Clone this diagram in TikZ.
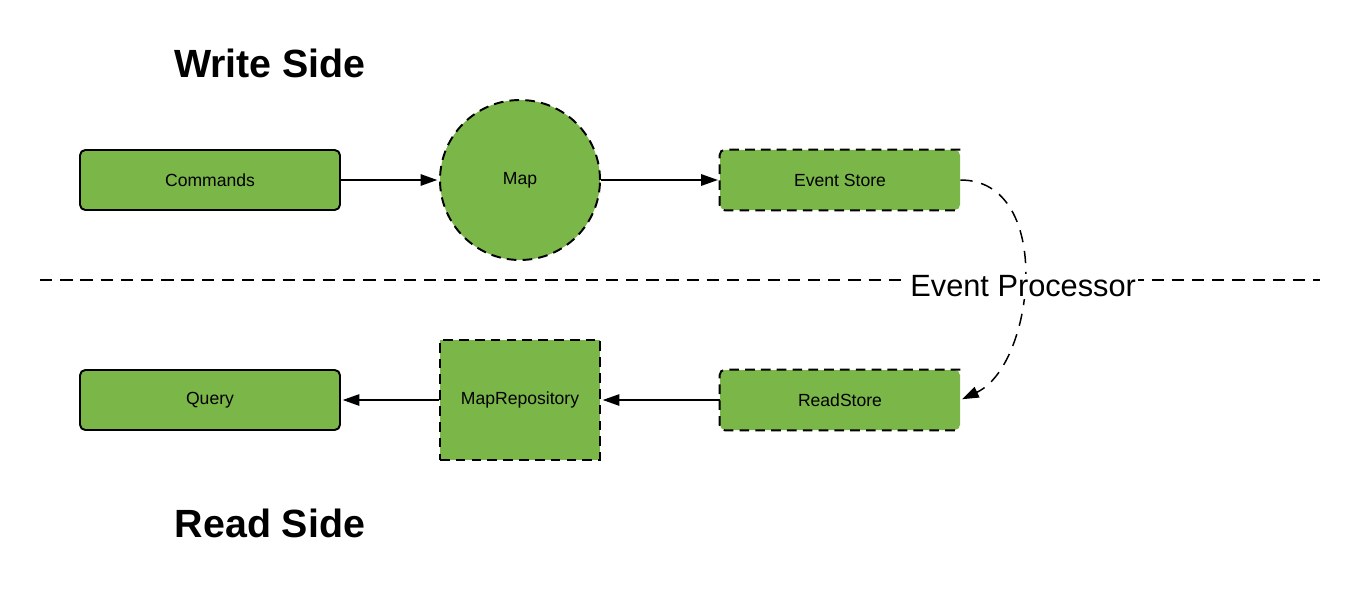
\documentclass[tikz,border=0pt]{standalone}
\usepackage{fontspec}
\setmainfont{Liberation Sans}
\usepackage{xcolor}
\usepackage{tikz}
\usetikzlibrary{arrows.meta, positioning, calc}
\definecolor{BoxGreen}{RGB}{122, 182, 72}

\tikzset{
    box/.style={fill=BoxGreen, minimum width=5.2cm, minimum height=1.2cm, font=\fontsize{10}{12}\selectfont},
    solidbox/.style={box, draw=black, line width=1.1pt, rounded corners=3pt},
    dashbox/.style={box, minimum width=4.8cm, rounded corners=3pt},
    dashedge/.style={line width=1.1pt, dash pattern=on 5.5pt off 3.5pt, rounded corners=3pt},
    flow/.style={line width=0.85pt, -{Triangle[length=9.5pt, width=6.5pt]}, shorten >=1pt},
    sidelabel/.style={font=\fontsize{22.4}{26}\selectfont\bfseries}
}

\begin{document}
\begin{tikzpicture}
    \useasboundingbox (0,0) rectangle (27.2,12);

    % titles
    \node[sidelabel] (write) at (5.4,10.74) {Write Side};
    \node[sidelabel] (read) at (5.4,1.54) {Read Side};

    % write side
    \node[solidbox] (commands) at (4.2,8.4) {Commands};
    \node[circle, fill=BoxGreen, draw=black, line width=1.1pt, dash pattern=on 5.5pt off 3.5pt,
          minimum size=3.2cm, font=\fontsize{10}{12}\selectfont] (map) at (10.4,8.4) {Map};
    \node[dashbox] (eventstore) at (16.8,8.4) {Event Store};
    \draw[dashedge] (eventstore.north east) -- (eventstore.north west) -- (eventstore.south west) -- (eventstore.south east);

    % read side
    \node[solidbox] (query) at (4.2,4.0) {Query};
    \node[box, draw=black, line width=1.1pt, dash pattern=on 5.5pt off 3.5pt,
          minimum width=3.2cm, minimum height=2.4cm] (maprepo) at (10.4,4.0) {MapRepository};
    \node[dashbox] (readstore) at (16.8,4.0) {ReadStore};
    \draw[dashedge] (readstore.north east) -- (readstore.north west) -- (readstore.south west) -- (readstore.south east);

    % arrows
    \draw[flow] (commands) -- (map);
    \draw[flow] (map) -- (eventstore);
    \draw[flow] (readstore) -- (maprepo);
    \draw[flow] (maprepo) -- (query);

    % separator line
    \coordinate (sepL) at (0.8,6.4);
    \coordinate (sepR) at (26.4,6.4);
    \draw[line width=0.85pt, dash pattern=on 7pt off 4.5pt] (sepL) -- (sepR);

    % event processor
    \draw[line width=0.85pt, dash pattern=on 7pt off 5pt, -{Triangle[length=9.5pt, width=6.5pt]}, shorten >=1pt]
        (eventstore.east) .. controls (21.1,8.4) and (20.7,4.7) .. (readstore.east)
        node[pos=0.53, fill=white, inner sep=1pt, font=\fontsize{17.5}{20}\selectfont] (processor) {Event Processor};
\end{tikzpicture}
\end{document}
